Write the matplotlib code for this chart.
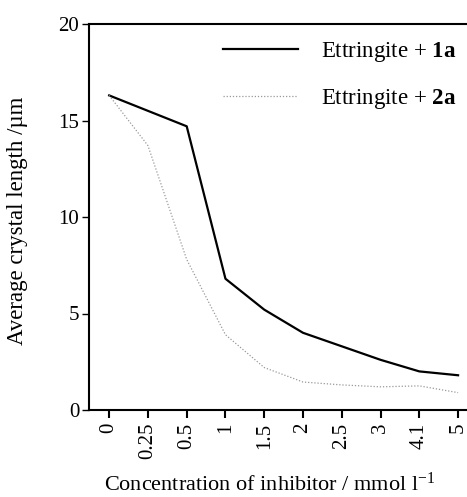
import matplotlib
matplotlib.use("Agg")
import matplotlib.pyplot as plt

plt.rcParams['font.family'] = ['Liberation Serif', 'DejaVu Serif']
plt.rcParams['mathtext.fontset'] = 'custom'
plt.rcParams['mathtext.rm'] = 'Liberation Serif'
plt.rcParams['mathtext.bf'] = 'Liberation Serif:bold'
plt.rcParams['mathtext.it'] = 'Liberation Serif:italic'

categories = ["0", "0.25", "0.5", "1", "1.5", "2", "2.5", "3", "4.1", "5"]
series_1a = [16.3, 15.5, 14.7, 6.8, 5.2, 4.0, 3.3, 2.6, 2.0, 1.8]
series_2a = [16.3, 13.7, 7.8, 3.9, 2.2, 1.45, 1.3, 1.2, 1.25, 0.9]
yticks = [0, 5, 10, 15, 20]

fig = plt.figure(figsize=(4.67, 4.97), dpi=100)
ax = fig.add_axes([89/467, 87/497, (467-89)/467, (410-24)/497])

x = list(range(len(categories)))
ax.plot(x, series_1a, color='black', lw=1.6, label=r'Ettringite + $\mathbf{1a}$')
ax.plot(x, series_2a, color='#999999', lw=0.9, linestyle=(0, (1, 1.5)), label=r'Ettringite + $\mathbf{2a}$')

ax.set_xlim(-0.52, 9.23)
ax.set_ylim(0, 20)
ax.set_xticks(x)
ax.set_xticklabels(categories, rotation=90, fontsize=15)
ax.set_yticks(yticks)
ax.set_yticklabels([str(v) for v in yticks], fontsize=15)
ax.spines['right'].set_visible(False)
for s in ['left', 'top', 'bottom']:
    ax.spines[s].set_linewidth(1.5)
ax.tick_params(axis='x', direction='out', length=6, width=1.5, pad=3)
ax.tick_params(axis='y', direction='out', length=5, width=1.0, pad=2)

ax.set_ylabel('Average crystal length /µm', fontsize=16.5)
ax.yaxis.set_label_coords(-0.161, 0.49)
ax.set_xlabel('Concentration of inhibitor / mmol l$^{-1}$', fontsize=16)
ax.xaxis.set_label_coords(0.479, -0.163)

leg = ax.legend(loc='upper right', frameon=False, fontsize=16.5, handlelength=3.3,
                handletextpad=1.0, labelspacing=1.0, borderaxespad=0.05,
                bbox_to_anchor=(1.0, 0.985))

fig.savefig('out.png', dpi=100)
